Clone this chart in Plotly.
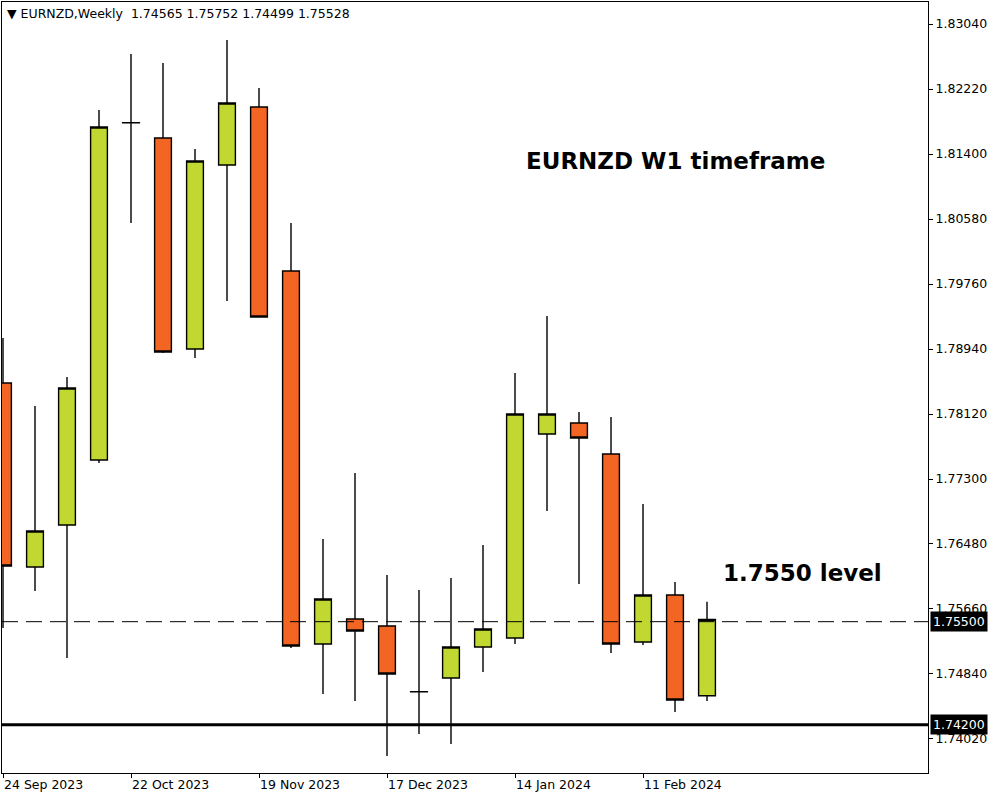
import plotly.graph_objects as go

# ---------------- data ----------------
weeks = ["24 Sep 2023", "01 Oct 2023", "08 Oct 2023", "15 Oct 2023", "22 Oct 2023",
         "29 Oct 2023", "05 Nov 2023", "12 Nov 2023", "19 Nov 2023", "26 Nov 2023",
         "03 Dec 2023", "10 Dec 2023", "17 Dec 2023", "24 Dec 2023", "31 Dec 2023",
         "07 Jan 2024", "14 Jan 2024", "21 Jan 2024", "28 Jan 2024", "04 Feb 2024",
         "11 Feb 2024", "18 Feb 2024", "25 Feb 2024"]
opens = [1.78511, 1.76190, 1.76720, 1.77540, 1.81795, 1.81602, 1.78940, 1.81261,
         1.81993, 1.79924, 1.75219, 1.75534, 1.75446, 1.74617, 1.74790, 1.75181,
         1.75294, 1.77868, 1.78007, 1.77616, 1.75244, 1.75837, 1.74565]
highs = [1.79079, 1.78221, 1.78587, 1.81955, 1.82662, 1.82548, 1.81463, 1.82838,
         1.82233, 1.80530, 1.76543, 1.77376, 1.76089, 1.75900, 1.76051, 1.76468,
         1.78637, 1.79356, 1.78145, 1.78082, 1.76985, 1.76001, 1.75752]
lows = [1.75421, 1.75887, 1.75042, 1.77502, 1.80530, 1.78889, 1.78827, 1.79546,
        1.79340, 1.75168, 1.74588, 1.74500, 1.73806, 1.74083, 1.73957, 1.74865,
        1.75219, 1.76896, 1.75976, 1.75105, 1.75206, 1.74361, 1.74499]
closes = [1.76203, 1.76644, 1.78448, 1.81741, 1.81792, 1.78902, 1.81312, 1.82043,
          1.79344, 1.75193, 1.75786, 1.75383, 1.74840, 1.74616, 1.75181, 1.75408,
          1.78120, 1.78120, 1.77817, 1.75219, 1.75837, 1.74512, 1.75528]

date_tick_idx = [0, 4, 8, 12, 16, 20]
price_ticks = [1.74020, 1.74840, 1.75660, 1.76480, 1.77300, 1.78120,
               1.78940, 1.79760, 1.80580, 1.81400, 1.82220, 1.83040]
level_dashed = 1.75500
level_solid = 1.74200

symbol = "EURNZD"
timeframe = "Weekly"

# ---------------- figure ----------------
xs = list(range(len(weeks)))
fig = go.Figure()
fig.add_trace(go.Candlestick(
    x=xs, open=opens, high=highs, low=lows, close=closes,
    increasing=dict(fillcolor="#C1D831", line=dict(color="black", width=1.4)),
    decreasing=dict(fillcolor="#F26522", line=dict(color="black", width=1.4)),
    whiskerwidth=0, showlegend=False, hoverinfo="skip",
))

fig.add_shape(type="line", xref="paper", x0=0, x1=1, yref="y", y0=level_dashed, y1=level_dashed,
              line=dict(color="black", width=1, dash="16px,8px"))
fig.add_shape(type="line", xref="paper", x0=0, x1=1, yref="y", y0=level_solid, y1=level_solid,
              line=dict(color="black", width=3))

tick_font = dict(family="DejaVu Sans", size=12.5, color="black")

for lvl in (level_dashed, level_solid):
    fig.add_annotation(xref="paper", x=1, xanchor="left", xshift=2, yref="y", y=lvl,
                       yanchor="middle", text=f"{lvl:.5f}", showarrow=False,
                       bgcolor="black", borderpad=2,
                       font=dict(family="DejaVu Sans", size=12.5, color="white"))

header = (f"\u25BC {symbol},{timeframe}  {opens[-1]:.5f} {highs[-1]:.5f} "
          f"{lows[-1]:.5f} {closes[-1]:.5f}")
fig.add_annotation(xref="paper", yref="paper", x=0, y=0.9857, xanchor="left", yanchor="middle",
                   xshift=3, text=header, showarrow=False, font=tick_font)

fig.add_annotation(xref="paper", yref="paper", x=0.7268, y=0.7938, xanchor="center", yanchor="middle",
                   text="EURNZD W1 timeframe", showarrow=False,
                   font=dict(family="DejaVu Sans", size=23, color="black", weight="bold"))
fig.add_annotation(xref="paper", yref="paper", x=0.865, y=0.2594, xanchor="center", yanchor="middle",
                   text="1.7550 level", showarrow=False,
                   font=dict(family="DejaVu Sans", size=23, color="black", weight="bold"))

fig.update_layout(
    width=1000, height=800,
    margin=dict(l=2, r=72, t=2, b=27),
    paper_bgcolor="white", plot_bgcolor="white",
    boxgap=0.25,
    xaxis=dict(
        range=[-0.03125, 28.906], rangeslider=dict(visible=False),
        tickmode="array", tickvals=date_tick_idx, ticktext=[weeks[i] for i in date_tick_idx],
        ticklabelposition="outside right",
        showgrid=False, zeroline=False, showline=True, linecolor="black", linewidth=1, mirror=True,
        ticks="outside", ticklen=4, tickcolor="black", tickfont=tick_font,
    ),
    yaxis=dict(
        side="right", range=[1.73591, 1.833175],
        tickmode="array", tickvals=price_ticks, tickformat=".5f",
        showgrid=False, zeroline=False, showline=True, linecolor="black", linewidth=1, mirror=True,
        ticks="outside", ticklen=4, tickcolor="black", tickfont=tick_font,
    ),
)

fig.write_html("out.html", config={"displayModeBar": False},
               post_script="document.body.style.margin='0px';")
